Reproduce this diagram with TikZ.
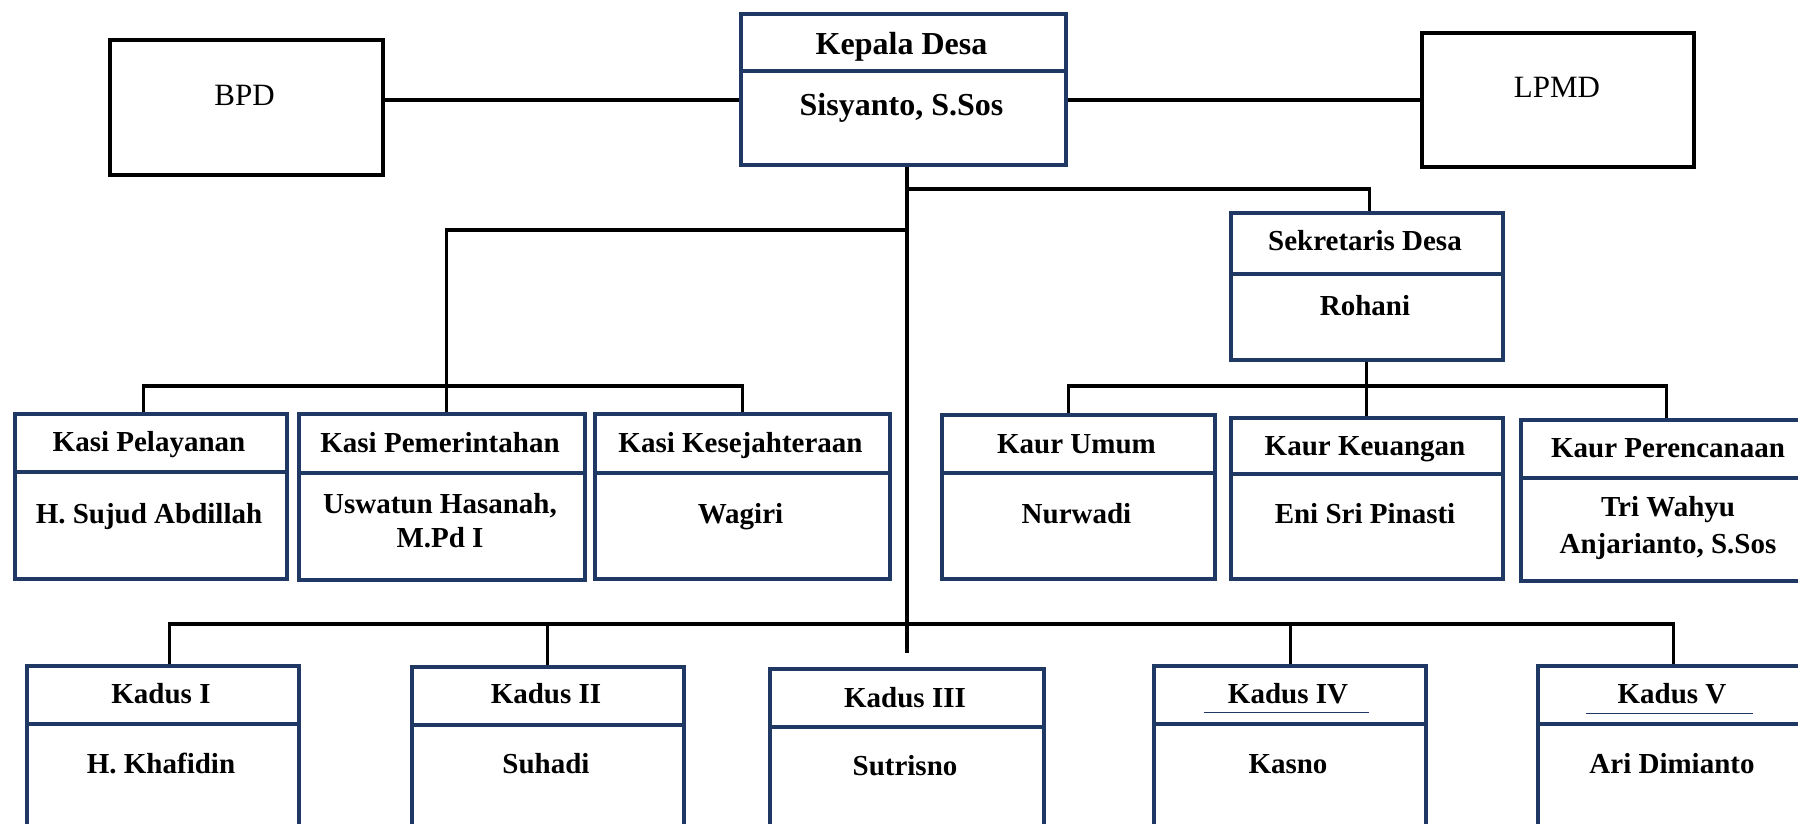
\documentclass[tikz,border=0pt]{standalone}
\usepackage{fontspec}
\setmainfont{Liberation Serif}
\definecolor{navy}{RGB}{31,56,100}
\tikzset{
  navybox/.style={draw=navy, line width=3.5pt, inner sep=0pt, anchor=north west, fill=white},
  blackbox/.style={draw=black, line width=3.5pt, inner sep=0pt, anchor=north west},
  divline/.style={navy, line width=3.5pt},
  conn/.style={black, line width=3.2pt},
  uline/.style={navy, line width=1pt},
  hdr/.style={font=\fontsize{29}{34}\selectfont\bfseries, anchor=base, inner sep=0pt},
  bigtxt/.style={font=\fontsize{32}{38}\selectfont\bfseries, anchor=base, inner sep=0pt},
  plaintxt/.style={font=\fontsize{31}{36}\selectfont, anchor=base, inner sep=0pt}
}
\newcommand{\orgbox}[6]{%
  \node[navybox, minimum width={(#4-#2)*1pt}, minimum height={(#6-#3)*1pt}] (#1) at (#2,#3) {};
  \coordinate (#1-d) at (#2,#5);
  \draw[divline] (#1.west |- #1-d) -- (#1.east |- #1-d);
}
\begin{document}
\begin{tikzpicture}[x=1pt,y=-1pt]
\useasboundingbox (0,0) rectangle (1798,823);
\clip (0,0) rectangle (1798,823);
\fill[white] (0,0) rectangle (1798,823);

% side boxes
\node[blackbox, minimum width=273pt, minimum height=135pt] (bpd) at (108,38) {};
\node[blackbox, minimum width=272pt, minimum height=134pt] (lpmd) at (1420,31) {};

% org boxes
\orgbox{kd}{739}{12}{1064}{71}{163}
\orgbox{sd}{1229}{211}{1501}{274}{358}
\orgbox{kpl}{13}{412}{285}{472}{577}
\orgbox{kpm}{297}{412}{583}{473}{578}
\orgbox{kks}{593}{412}{888}{473}{577}
\orgbox{kum}{940}{413}{1213}{473}{577}
\orgbox{kku}{1229}{416}{1501}{474}{577}
\orgbox{kpr}{1519}{418}{1817}{478}{579}
\orgbox{kda}{25}{664}{297}{724}{880}
\orgbox{kdb}{410}{665}{682}{725}{880}
\orgbox{kdc}{768}{667}{1042}{727}{880}
\orgbox{kdd}{1152}{664}{1424}{724}{880}
\orgbox{kde}{1536}{664}{1808}{724}{880}

% junction coordinates
\coordinate (hl) at (0,100);
\coordinate (t1) at (907,189);
\coordinate (t2) at (907,230);
\coordinate (tEnd) at (907,653);
\coordinate (kasibar) at (0,386);
\coordinate (kaurbar) at (0,386);
\coordinate (kadusbar) at (0,624);
\coordinate (sdIn) at ([xshift=3pt]sd.north);
\coordinate (kpmIn) at ([xshift=5pt]kpm.north);
\coordinate (kplIn) at ([xshift=-7pt]kpl.north);
\coordinate (kumIn) at ([xshift=-9.5pt]kum.north);
\coordinate (kprIn) at ([xshift=-3pt]kpr.north);
\coordinate (kdaIn) at ([xshift=7pt]kda.north);
\coordinate (kddIn) at ([xshift=1pt]kdd.north);

% connectors
\draw[conn] (bpd.east |- hl) -- (kd.west |- hl);
\draw[conn] (kd.east |- hl) -- (lpmd.west |- hl);
\draw[conn] (kd.south -| tEnd) -- (tEnd);
\draw[conn] (t1) -| (sdIn);
\draw[conn] (t2) -| (kpmIn);
\draw[conn] (kplIn) |- (kasibar -| kks.north) -- (kks.north);
\draw[conn] (sd.south) -- (kku.north);
\draw[conn] (kumIn) |- (kaurbar -| kprIn) -- (kprIn);
\draw[conn] (kdaIn) |- (kadusbar -| kde.north) -- (kde.north);
\draw[conn] (kdb.north) -- (kdb.north |- kadusbar);
\draw[conn] (kddIn) -- (kddIn |- kadusbar);

% texts
\node[plaintxt] (bpd-t) at (244.5,105) {BPD};
\node[plaintxt] (lpmd-t) at (1557,97) {LPMD};
\node[bigtxt] (kd-h) at (901.5,54) {Kepala Desa};
\node[bigtxt] (kd-b) at (901.5,115) {Sisyanto, S.Sos};
\node[hdr] (sd-h) at (1365,250) {Sekretaris Desa};
\node[hdr] (sd-b) at (1365,315) {Rohani};
\node[hdr] (kpl-h) at (149,451) {Kasi Pelayanan};
\node[hdr] (kpl-b) at (149,523) {H. Sujud Abdillah};
\node[hdr] (kpm-h) at (440,452) {Kasi Pemerintahan};
\node[hdr] (kpm-b1) at (440,513) {Uswatun Hasanah,};
\node[hdr] (kpm-b2) at (440,547) {M.Pd I};
\node[hdr] (kks-h) at (740.5,452) {Kasi Kesejahteraan};
\node[hdr] (kks-b) at (740.5,523) {Wagiri};
\node[hdr] (kum-h) at (1076.5,453) {Kaur Umum};
\node[hdr] (kum-b) at (1076.5,523) {Nurwadi};
\node[hdr] (kku-h) at (1365,455) {Kaur Keuangan};
\node[hdr] (kku-b) at (1365,523) {Eni Sri Pinasti};
\node[hdr] (kpr-h) at (1668,457) {Kaur Perencanaan};
\node[hdr] (kpr-b1) at (1668,516) {Tri Wahyu};
\node[hdr] (kpr-b2) at (1668,553) {Anjarianto, S.Sos};
\node[hdr] (kda-h) at (161,703) {Kadus I};
\node[hdr] (kda-b) at (161,773) {H. Khafidin};
\node[hdr] (kdb-h) at (546,703) {Kadus II};
\node[hdr] (kdb-b) at (546,773) {Suhadi};
\node[hdr] (kdc-h) at (905,707) {Kadus III};
\node[hdr] (kdc-b) at (905,775) {Sutrisno};
\node[hdr] (kdd-h) at (1288,703) {Kadus IV};
\node[hdr] (kdd-b) at (1288,773) {Kasno};
\node[hdr] (kde-h) at (1672,703) {Kadus V};
\node[hdr] (kde-b) at (1672,773) {Ari Dimianto};

% thin underlines under Kadus IV and Kadus V
\draw[uline] ([xshift=-24pt,yshift=-9pt]kdd-h.base west) -- ([xshift=21pt,yshift=-9pt]kdd-h.base east);
\draw[uline] ([xshift=-31pt,yshift=-10pt]kde-h.base west) -- ([xshift=26pt,yshift=-10pt]kde-h.base east);
\end{tikzpicture}
\end{document}
